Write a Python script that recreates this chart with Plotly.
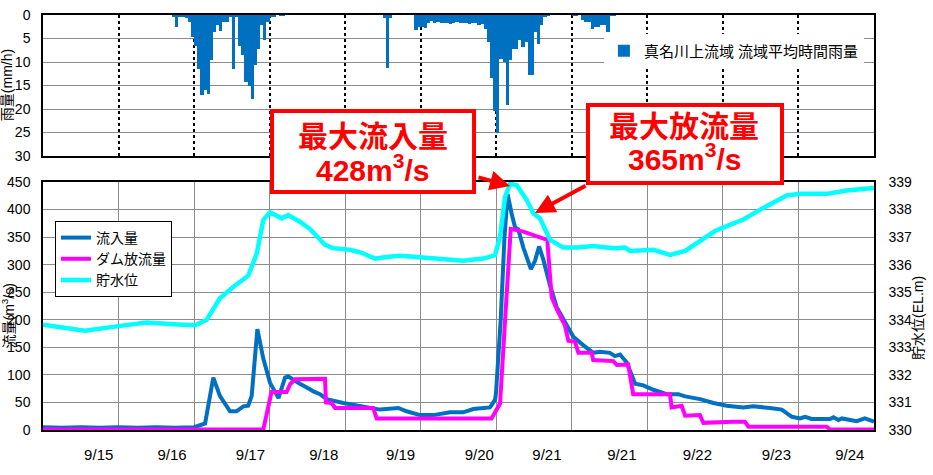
import plotly.graph_objects as go

FONT = "Liberation Sans, Arial, Noto Sans CJK JP, sans-serif"

# x values are hours counted from the left edge of the chart (11 days = 264 h)
inflow_h = [0, 6, 12, 18, 24, 30, 36, 42, 48, 49.9, 51.5, 54.1, 56.2, 59.4, 61.5, 63.6,
            65.2, 66.3, 68.1, 70.0, 72.1, 74.8, 76.9, 77.9, 80.6, 81.6, 84.8, 85.9, 88.0,
            90.1, 95.4, 102.8, 107.1, 112.9, 115.5, 119.8, 124.0, 129.3, 133.5, 136.7,
            139.8, 142.0, 142.5, 143.6, 143.9, 145.4, 146.6, 147.6, 148.9, 150.0, 151.0,
            152.6, 155.0, 156.3, 157.6, 158.9, 161.1, 163.2, 166.4, 168.5, 171.6, 174.8,
            176.9, 180.1, 181.7, 183.3, 185.4, 188.1, 190.7, 193.9, 198.1, 201.8, 204.0,
            208.7, 213.0, 217.2, 222.5, 225.6, 230.9, 234.7, 237.9, 240.5, 242.1, 244.2,
            250.0, 251.1, 252.7, 253.8, 258.5, 261.1, 264]
inflow = [5, 4, 5, 4, 5, 4, 5, 4, 5, 9, 12, 95, 62, 34, 34, 43,
          44, 62, 183, 129, 86, 58, 95, 97, 86, 84, 74, 70, 65,
          56, 49, 41, 37, 40, 34, 27, 27, 32, 32, 38,
          39, 41, 45, 55, 66, 199, 349, 428, 392, 367, 364,
          331, 292, 307, 333, 310, 262, 223, 190, 169, 154, 140,
          142, 140, 134, 137, 123, 84, 81, 73, 65, 65, 61,
          56, 49, 44, 41, 43, 40, 37, 24, 21, 24, 20,
          20, 23, 18, 21, 16, 21, 15]

release_h = [0, 70.0, 72.6, 77.4, 78.5, 80.1, 89.6, 89.9, 91.7, 92.8, 104.9, 106.0, 142.5,
             144.1, 145.2, 146.8, 148.6, 152.6, 156.8, 160.2, 161.6, 163.4, 165.8, 166.9,
             169.0, 170.1, 174.3, 174.8, 181.2, 182.3, 185.9, 187.5, 199.2, 199.7, 202.9,
             204.0, 208.7, 209.8, 219.3, 223.0, 224.1, 249.0, 250.0, 264]
release = [1, 1, 69, 69, 83, 92, 93, 50, 49, 40, 40, 21, 21,
           36, 48, 199, 365, 360, 351, 345, 241, 217, 190, 162,
           160, 140, 140, 127, 125, 118, 119, 65, 65, 41, 44,
           26, 27, 13, 15, 15, 6, 6, 1, 1]

level_h = [0, 6, 13.3, 23.4, 32.9, 41.4, 48.3, 52.0, 53.6, 55.2, 56.2, 60.5, 65.2, 67.9,
           70.0, 72.1, 75.8, 77.9, 81.6, 84.8, 88.0, 89.6, 92.1, 97.5, 101.0, 105.5, 109.0,
           113.4, 120.7, 127.0, 133.4, 139.8, 143.6, 145.2, 146.8, 148.4, 150.5, 153.7,
           155.8, 157.9, 161.1, 165.3, 169.6, 174.8, 181.2, 184.9, 186.5, 193.9, 199.2,
           204.0, 208.7, 213.5, 217.2, 222.5, 228.8, 236.3, 240.5, 249.0, 255.3, 264]
level = [333.82, 333.72, 333.60, 333.76, 333.90, 333.84, 333.80, 334.00, 334.30, 334.65,
         334.78, 335.20, 335.60, 336.40, 337.62, 337.90, 337.68, 337.80, 337.56, 337.30,
         336.90, 336.72, 336.60, 336.54, 336.44, 336.22, 336.28, 336.32, 336.26, 336.20,
         336.14, 336.22, 336.34, 337.02, 338.46, 338.94, 338.88, 338.34, 337.86, 337.68,
         336.90, 336.62, 336.62, 336.68, 336.60, 336.62, 336.50, 336.54, 336.35, 336.50,
         336.86, 337.22, 337.40, 337.64, 338.06, 338.51, 338.57, 338.57, 338.69, 338.78]

# hourly basin-average rainfall, hours with rain only (bar starts at the hour)
rain_h = [41, 42, 43, 44, 45, 46, 47, 48, 49, 50, 51, 52, 53, 54, 55, 56, 57, 58, 59, 60,
          61, 62, 63, 64, 65, 66, 67, 68, 69, 70, 71, 72, 73, 75, 76,
          108, 109, 110,
          118, 119, 120, 121, 122, 123, 124, 125, 126, 127, 128, 129, 130, 131, 132, 133,
          134, 135, 136, 137, 138, 139, 140, 141, 142, 143, 144, 145, 146, 147, 148, 149,
          150, 151, 152, 153, 154, 155, 156, 157, 158, 159, 160,
          168, 169,
          171, 172, 173, 174, 175, 176, 177, 178, 179, 180, 181]
rain_mm = [0.3, 2.5, 0.4, 0.4, 0.6, 1.5, 4.7, 6.5, 11.4, 17.1, 16.0, 16.7, 9.6, 3.6, 2.2,
           3.3, 1.5, 1.5, 0.4, 11.4, 0.4, 6.5, 8.6, 14.3, 15.0, 17.8, 10.7, 7.2, 2.2, 5.4,
           1.5, 0.4, 0.4, 0.1, 0.1,
           0.7, 11.3, 0.7,
           3.2, 2.5, 2.5, 2.8, 1.6, 1.2, 1.6, 1.5, 1.7, 1.8, 1.6, 1.9, 1.7, 1.5, 1.8, 1.7,
           1.6, 2.0, 1.8, 1.7, 2.1, 1.9, 2.9, 5.7, 13.5, 20.5, 25.2, 9.3, 10.0, 19.2, 9.6,
           7.2, 7.2, 5.4, 6.8, 5.7, 12.8, 12.8, 3.6, 6.1, 2.2, 0.3, 0.2,
           0.1, 0.1,
           1.1, 1.5, 1.5, 2.9, 2.6, 2.6, 2.2, 2.2, 3.6, 0.2, 0.1]

day_lines = [24, 48, 72, 96, 120, 144, 168, 192, 216, 240]
tick_h = [17.7, 41.0, 65.9, 89.2, 113.6, 138.6, 160.1, 183.9, 207.9, 233.0, 256.3]
tick_text = ["9/15", "9/16", "9/17", "9/18", "9/19", "9/20", "9/21", "9/21", "9/22", "9/23", "9/24"]

GRID = "#8c8c8c"
RED = "#FF0000"

fig = go.Figure()
fig.add_trace(go.Bar(
    x=rain_h, y=rain_mm, width=1, offset=0, name="真名川上流域 流域平均時間雨量",
    marker=dict(color="#0070C0", line_width=0), xaxis="x2", yaxis="y2", legend="legend2",
))
fig.add_trace(go.Scatter(x=inflow_h, y=inflow, mode="lines", name="流入量",
                         line=dict(color="#0070C0", width=4)))
fig.add_trace(go.Scatter(x=release_h, y=release, mode="lines", name="ダム放流量",
                         line=dict(color="#FF00FF", width=4)))
fig.add_trace(go.Scatter(x=level_h, y=level, mode="lines", name="貯水位", yaxis="y3",
                         line=dict(color="#00FFFF", width=4.5)))

axis_line = dict(showline=True, linecolor="black", linewidth=1.5, mirror=True,
                 zeroline=False, automargin=False)

fig.update_layout(
    width=933, height=475, margin=dict(l=43, r=59, t=15, b=45),
    paper_bgcolor="white", plot_bgcolor="white",
    font=dict(family=FONT, size=14, color="black"),
    xaxis=dict(domain=[0, 1], anchor="y", range=[0, 264], tickmode="array",
               tickvals=tick_h, ticktext=tick_text, showgrid=False, ticks="",
               ticklabelstandoff=10, tickfont=dict(size=15),
               minor=dict(tickmode="array", tickvals=day_lines, showgrid=True,
                          gridcolor=GRID, gridwidth=1, ticks=""),
               **axis_line),
    yaxis=dict(domain=[0, 0.5976], anchor="x", range=[0, 450], dtick=50, tick0=0,
               gridcolor=GRID, ticks="", ticklabelstandoff=8, **axis_line),
    yaxis3=dict(overlaying="y", side="right", anchor="x", range=[330, 339], dtick=1,
                showgrid=False, ticks="", ticklabelstandoff=10, automargin=False,
                showline=True, linecolor="black", linewidth=1.5, zeroline=False),
    xaxis2=dict(domain=[0, 1], anchor="y2", range=[0, 264], tickmode="array",
                tickvals=day_lines, showticklabels=False, showgrid=True, gridcolor="black",
                griddash="dot", gridwidth=1.5, ticks="", **axis_line),
    yaxis2=dict(domain=[0.6602, 1], anchor="x2", range=[30, 0], dtick=5, tick0=0,
                gridcolor=GRID, ticks="", ticklabelstandoff=8, **axis_line),
    bargap=0,
    legend=dict(x=0.0144, y=0.5036, xanchor="left", yanchor="top", bgcolor="white",
                bordercolor="black", borderwidth=1, font=dict(size=14), tracegroupgap=0,
                entrywidth=90),
    legend2=dict(x=0.675, y=0.9133, xanchor="left", yanchor="middle", bgcolor="white",
                 borderwidth=0, font=dict(size=15)),
    showlegend=True,
)

# callout boxes
fig.add_shape(type="rect", xref="paper", yref="paper", x0=0.2756, x1=0.5187, y0=0.5735,
              y1=0.7687, line=dict(color=RED, width=4), fillcolor="white", layer="above")
fig.add_shape(type="rect", xref="paper", yref="paper", x0=0.6558, x1=0.8893, y0=0.5952,
              y1=0.7831, line=dict(color=RED, width=4), fillcolor="white", layer="above")

callout_font = dict(family=FONT, size=30, color=RED, weight="bold")
for text, x, y in [("最大流入量", 0.3971, 0.7080), ("428m<sup>3</sup>/s", 0.3971, 0.6310),
                   ("最大放流量", 0.7714, 0.7321), ("365m<sup>3</sup>/s", 0.7714, 0.6575)]:
    fig.add_annotation(text=text, x=x, y=y, xref="paper", yref="paper", showarrow=False,
                       font=callout_font, xanchor="center", yanchor="middle")

# arrows to the hydrograph
for x, y, ax, ay in [(0.5620, 0.5880, -33, -9), (0.5921, 0.5229, 52, -28)]:
    fig.add_annotation(text="", x=x, y=y, xref="paper", yref="paper", ax=ax, ay=ay,
                       showarrow=True, arrowhead=2, arrowsize=1, arrowwidth=4,
                       arrowcolor=RED)

# axis titles
for text, x, y in [("雨量(mm/h)", -0.0433, 0.831), ("流量(m<sup>3</sup>/s)", -0.0415, 0.2747),
                   ("貯水位(EL.m)", 1.0529, 0.27)]:
    fig.add_annotation(text=text, x=x, y=y, xref="paper", yref="paper", showarrow=False,
                       textangle=-90, font=dict(size=14), xanchor="center", yanchor="middle")

# the page is photographed from its top-left corner, so drop the default body margin
fig.write_html("out.html", config={"displayModeBar": False},
               post_script="document.body.style.margin = '0';")
